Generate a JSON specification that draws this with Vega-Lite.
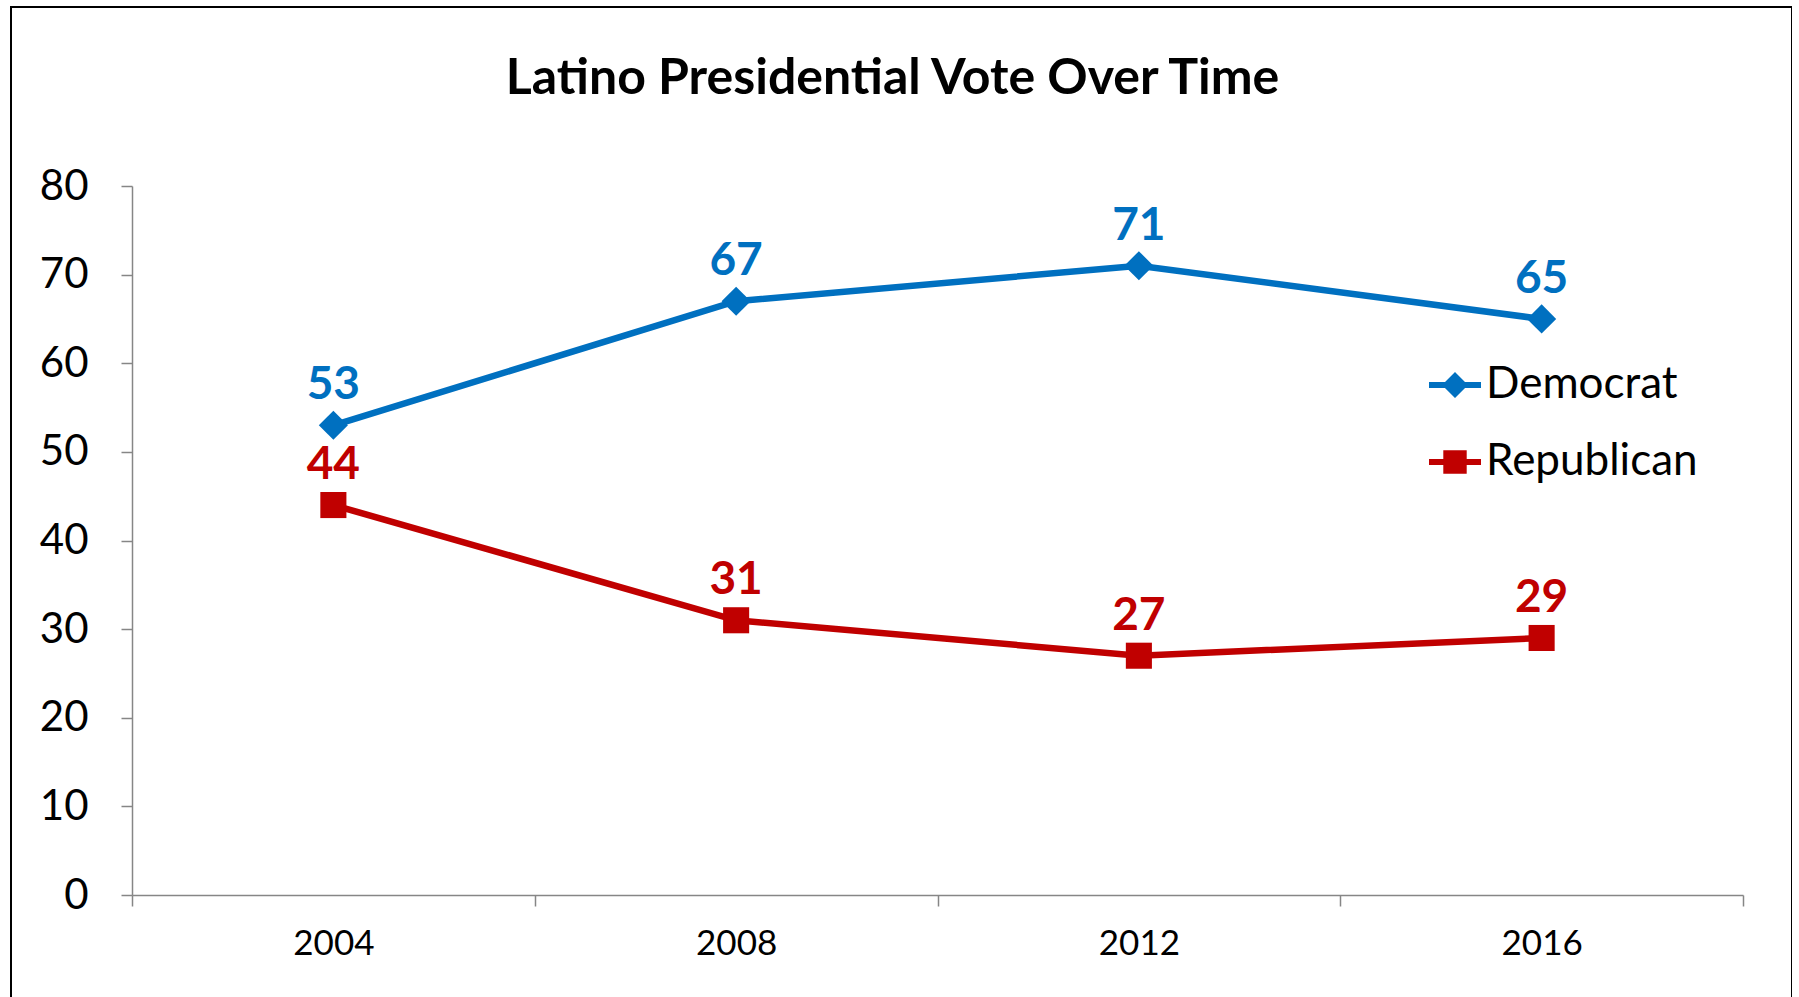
{
  "$schema": "https://vega.github.io/schema/vega-lite/v6.json",
  "autosize": {"type": "none"},
  "padding": {"left": 11, "top": 7, "right": 0, "bottom": 0},
  "width": 1781,
  "height": 1000,
  "background": "#ffffff",
  "title": {
    "text": "Latino Presidential Vote Over Time",
    "font": "Lato",
    "fontSize": 50,
    "fontWeight": "bold",
    "color": "#000000",
    "anchor": "middle",
    "frame": "group",
    "baseline": "alphabetic",
    "offset": -137,
    "dx": -9
  },
  "data": {
    "values": [
      {"Year": "2004", "Party": "Democrat", "Vote": 53},
      {"Year": "2008", "Party": "Democrat", "Vote": 67},
      {"Year": "2012", "Party": "Democrat", "Vote": 71},
      {"Year": "2016", "Party": "Democrat", "Vote": 65},
      {"Year": "2004", "Party": "Republican", "Vote": 44},
      {"Year": "2008", "Party": "Republican", "Vote": 31},
      {"Year": "2012", "Party": "Republican", "Vote": 27},
      {"Year": "2016", "Party": "Republican", "Vote": 29}
    ]
  },
  "encoding": {
    "x": {
      "field": "Year",
      "type": "ordinal",
      "scale": {"type": "band", "range": [121, 1732], "paddingInner": 0, "paddingOuter": 0},
      "axis": {
        "title": null,
        "orient": "bottom",
        "offset": -112,
        "labelAngle": 0,
        "labelFont": "Lato",
        "labelFontSize": 35,
        "labelColor": "#000000",
        "labelPadding": 20,
        "tickBand": "extent",
        "tickSize": 11,
        "tickColor": "#868686",
        "tickWidth": 1.5,
        "domainColor": "#868686",
        "domainWidth": 1.5,
        "grid": false
      }
    },
    "y": {
      "field": "Vote",
      "type": "quantitative",
      "scale": {"domain": [0, 80], "range": [888, 179], "nice": false},
      "axis": {
        "title": null,
        "orient": "left",
        "offset": -121,
        "values": [0, 10, 20, 30, 40, 50, 60, 70, 80],
        "labelFont": "Lato",
        "labelFontSize": 42,
        "labelColor": "#000000",
        "labelPadding": 33,
        "tickSize": 11,
        "tickColor": "#868686",
        "tickWidth": 1.5,
        "domainColor": "#868686",
        "domainWidth": 1.5,
        "grid": false
      }
    },
    "color": {
      "field": "Party",
      "type": "nominal",
      "scale": {"domain": ["Democrat", "Republican"], "range": ["#0070C0", "#C00000"]},
      "legend": {
        "title": null,
        "orient": "none",
        "legendX": 1418,
        "legendY": 352,
        "symbolSize": 2704,
        "symbolType": {"expr": "datum.value === 'Democrat' ? 'M-1,-0.115H1V0.115H-1Z M-0.5,0L0,-0.5L0.5,0L0,0.5Z' : 'M-1,-0.115H1V0.115H-1Z M-0.45,-0.45H0.45V0.45H-0.45Z'"},
        "symbolStrokeWidth": 0,
        "labelFont": "Lato",
        "labelFontSize": 44,
        "labelColor": "#000000",
        "labelLimit": 0,
        "labelOffset": 5,
        "rowPadding": 29
      }
    }
  },
  "layer": [
    {
      "mark": {"type": "line", "strokeWidth": 6.5}
    },
    {
      "mark": {
        "type": "point",
        "filled": true,
        "opacity": 1,
        "shape": {"expr": "datum.Party === 'Democrat' ? 'diamond' : 'square'"},
        "size": {"expr": "datum.Party === 'Democrat' ? 850 : 680"}
      }
    },
    {
      "mark": {"type": "text", "font": "Lato", "fontSize": 46, "fontWeight": "bold", "baseline": "alphabetic", "dy": -26},
      "encoding": {
        "text": {"field": "Vote", "type": "quantitative"}
      }
    }
  ],
  "config": {
    "view": {"stroke": "#000000", "strokeWidth": 2},
    "font": "Lato"
  }
}
